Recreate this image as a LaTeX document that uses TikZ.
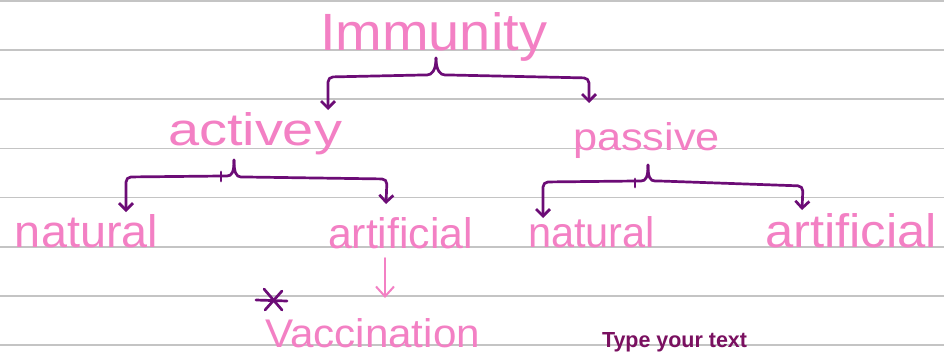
\documentclass[tikz,border=0pt]{standalone}
\usepackage{fontspec}
\setmainfont{Liberation Sans}
\usetikzlibrary{arrows.meta}
\definecolor{hwpink}{RGB}{243,128,196}
\definecolor{hwpurple}{RGB}{108,12,118}
\definecolor{typecol}{RGB}{122,16,96}
\definecolor{ruling}{RGB}{196,196,196}
\newcommand\hwtext[3]{\resizebox{#1pt}{#2pt}{#3}}
\begin{document}
\begin{tikzpicture}[x=1pt,y=-1pt,
  lbl/.style={anchor=base west,inner sep=0pt,outer sep=0pt,text=hwpink},
  conn/.style={draw=hwpurple,line width=2.7pt,line cap=round,line join=round,rounded corners=5pt},
  conntip/.style={conn,-{Straight Barb[length=7pt,width=14pt]}},
  pinkarrow/.style={draw=hwpink,line width=2pt,line cap=round,-{Straight Barb[length=10pt,width=18pt]}},
  ast/.style={draw=hwpurple,line width=2.7pt,line cap=round},
  rule/.style={draw=ruling,line width=1.8pt}]
\fill[white] (0,0) rectangle (944,356);
\useasboundingbox (0,0) rectangle (944,356);
\foreach \k in {0,...,7} \draw[rule] (0,{1+49.14*\k}) -- (944,{1+49.14*\k});

% texts
\node[lbl] (imm) at (320,50) {\hwtext{227}{38}{Immunity}};
\node[lbl] (act) at (168,145) {\hwtext{174}{33}{activey}};
\node[lbl] (pas) at (573,150) {\hwtext{147}{28}{passive}};
\node[lbl] (natA) at (15,247) {\hwtext{143}{33}{natural}};
\node[lbl] (artA) at (328,248) {\hwtext{145}{31}{artificial}};
\node[lbl] (natP) at (528,247) {\hwtext{127}{31}{natural}};
\node[lbl] (artP) at (765,247) {\hwtext{172}{34}{artificial}};
\node[lbl] (vac) at (265,347) {\hwtext{215}{29}{Vaccination}};
\node[lbl,text=typecol] (typ) at (602,347) {\hwtext{145}{15}{\textbf{Type your text}}};

% connector end points
\coordinate (imm-tip) at (436,58);
\coordinate (act-in) at (328,110);
\coordinate (pas-in) at (589,103);
\coordinate (act-tip) at (234,160);
\coordinate (natA-in) at (126,212);
\coordinate (artA-in) at (386,204);
\coordinate (pas-tip) at (648,165);
\coordinate (natP-in) at (543,218);
\coordinate (artP-in) at (802,210);
\coordinate (artA-out) at (385,258);
\coordinate (vac-in) at (385,298);

% Immunity brace
\draw[conntip] (imm-tip) .. controls +(0,12) and +(10,0) .. (422,75) -- (328,77) -- (act-in);
\draw[conntip] (imm-tip) .. controls +(0,12) and +(-10,0) .. (450,75) -- (589,78) -- (pas-in);

% activey brace
\draw[conntip] (act-tip) .. controls +(0,12) and +(10,0) .. (222,176) -- (126,177) -- (natA-in);
\draw[conntip] (act-tip) .. controls +(0,12) and +(-10,0) .. (246,177) -- (387,179) -- (artA-in);
\draw[conn] (221,172) -- (221,181);

% passive brace
\draw[conntip] (pas-tip) .. controls +(0,12) and +(10,0) .. (636,181) -- (543,182) -- (natP-in);
\draw[conntip] (pas-tip) .. controls +(0,12) and +(-10,0) .. (660,181) -- (803,186) -- (artP-in);
\draw[conn] (635,179) -- (635,187);

% artificial -> Vaccination
\draw[pinkarrow] (artA-out) -- (vac-in);

% asterisk
\draw[ast] (256,300) -- (287,301);
\draw[ast] (264,289) -- (282,310);
\draw[ast] (282,291) -- (265,310);
\end{tikzpicture}
\end{document}
